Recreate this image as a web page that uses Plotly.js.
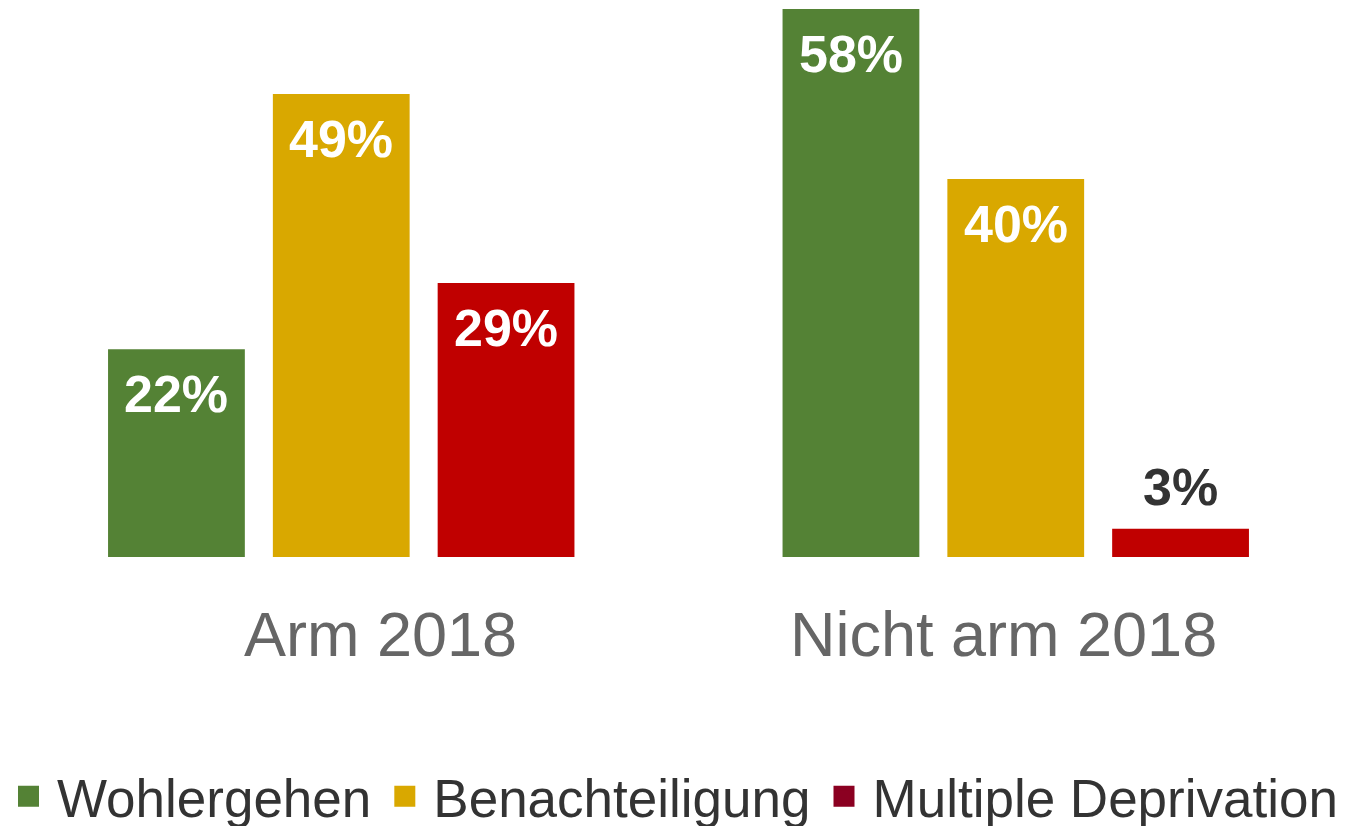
<!DOCTYPE html>
<html>
<head>
<meta charset="utf-8">
<script src="https://cdn.plot.ly/plotly-3.0.1.min.js"></script>
<style>html,body{margin:0;padding:0;background:#fff;}#chart{width:1364px;height:826px;}</style>
</head>
<body>
<div id="chart"></div>
<script>
const categories = ["Arm 2018", "Nicht arm 2018"];
const seriesNames = ["Wohlergehen", "Benachteiligung", "Multiple Deprivation"];
const wohlergehen = [22, 58];
const benachteiligung = [49, 40];
const multipleDeprivation = [29, 3];

const seriesValues = [wohlergehen, benachteiligung, multipleDeprivation];
const barColors = ["#548235", "#D9A800", "#C00000"];
const legendColors = ["#548235", "#D9A800", "#8B0021"];
const categoryLabelShift = [39, -12];
const FONT = "'Liberation Sans', Arial, sans-serif";
const bargap = 0.267;
const bargroupgap = 0.17;

const traces = [];
seriesValues.forEach((vals, j) => {
  traces.push({
    type: "bar",
    name: seriesNames[j],
    x: categories,
    y: vals,
    marker: {color: barColors[j]},
    showlegend: false,
    hoverinfo: "none"
  });
});
// legend entries
seriesNames.forEach((n, j) => {
  traces.push({
    type: "scatter",
    mode: "markers",
    name: n,
    x: [null],
    y: [null],
    marker: {symbol: "square", size: 16, color: legendColors[j], line: {width: 5, color: legendColors[j]}},
    showlegend: true,
    hoverinfo: "none"
  });
});

const slot = (1 - bargap) / seriesValues.length;
const annotations = [];
seriesValues.forEach((vals, j) => {
  vals.forEach((v, i) => {
    const inside = v >= 10;
    annotations.push({
      x: i + (j - (seriesValues.length - 1) / 2) * slot,
      y: v,
      xref: "x",
      yref: "y",
      text: "<b>" + v + "%</b>",
      showarrow: false,
      xanchor: "center",
      yanchor: "middle",
      yshift: inside ? -45 : 42,
      font: {family: FONT, size: 52, color: inside ? "#ffffff" : "#333333"}
    });
  });
});
categories.forEach((c, i) => {
  annotations.push({
    x: i,
    y: 0,
    xref: "x",
    yref: "y",
    text: c,
    showarrow: false,
    xanchor: "center",
    yanchor: "middle",
    xshift: categoryLabelShift[i],
    yshift: -77,
    font: {family: FONT, size: 63, color: "#666666"}
  });
});

const layout = {
  width: 1364,
  height: 826,
  margin: {l: 3.5, r: 10.5, t: 9, b: 269},
  paper_bgcolor: "#ffffff",
  plot_bgcolor: "#ffffff",
  barmode: "group",
  bargap: bargap,
  bargroupgap: bargroupgap,
  xaxis: {
    type: "category",
    range: [-0.5, 1.5],
    showgrid: false,
    zeroline: false,
    showline: false,
    ticks: "",
    showticklabels: false
  },
  yaxis: {
    range: [0, 58],
    autorange: false,
    showgrid: false,
    zeroline: false,
    showline: false,
    showticklabels: false,
    ticks: ""
  },
  showlegend: true,
  legend: {
    orientation: "h",
    xref: "container",
    yref: "container",
    x: 0,
    y: 0.036,
    xanchor: "left",
    yanchor: "middle",
    itemwidth: 47,
    font: {family: FONT, size: 53, color: "#333333"},
    itemclick: false,
    itemdoubleclick: false
  },
  annotations: annotations
};

Plotly.newPlot("chart", traces, layout, {displayModeBar: false, staticPlot: true});
</script>
</body>
</html>
